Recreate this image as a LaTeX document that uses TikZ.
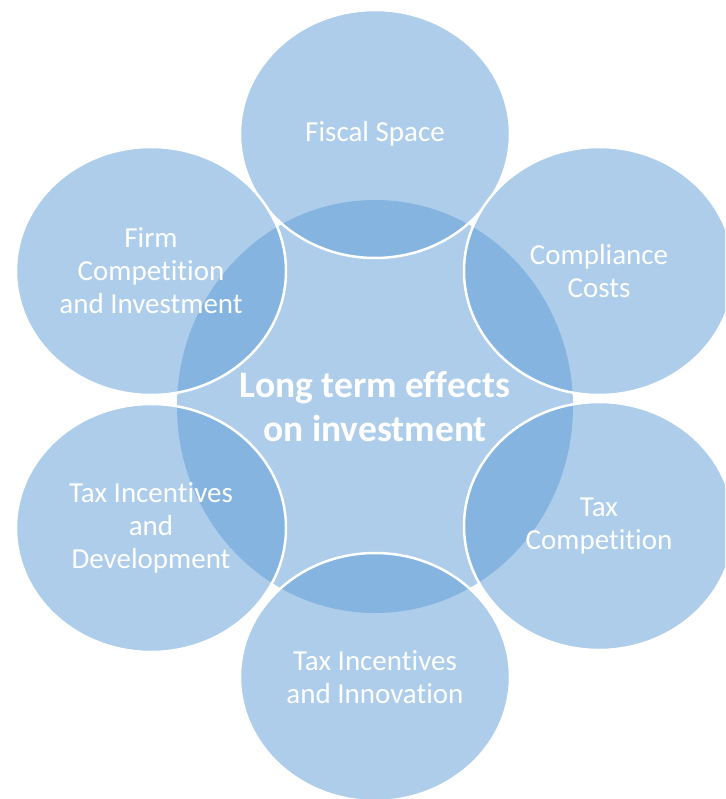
\documentclass[tikz,border=0pt]{standalone}
\usepackage{fontspec}
\setmainfont{Carlito}[RawFeature={-liga;-clig;-dlig;-calt}]
\usetikzlibrary{shapes.geometric}
\definecolor{acc}{HTML}{5B9BD5}
\newcommand{\nolig}{\kern0pt }
\begin{document}
\begin{tikzpicture}[x=1pt,y=-1pt,
  hub/.style={ellipse, fill=acc, fill opacity=0.5, draw=none,
    minimum width=396pt, minimum height=413pt, inner sep=0pt},
  petal/.style={ellipse, fill=acc, fill opacity=0.5, draw=white, draw opacity=1,
    line width=2.5pt, minimum width=270pt, minimum height=248pt, inner sep=0pt},
  ptxt/.style={text=white, align=center, font=\fontsize{29}{33}\selectfont},
  htxt/.style={text=white, align=center, font=\bfseries\fontsize{37.5}{44}\selectfont}]
\useasboundingbox (0,0) rectangle (725,799);
\clip (0,0) rectangle (725,799);
\node[hub] (hub) at (375,406.5) {};
\node[petal] (fs) at (375,134) {};
\node[petal] (cc) at (599,271) {};
\node[petal] (tc) at (599,526) {};
\node[petal] (ti) at (375,677) {};
\node[petal] (td) at (151,528) {};
\node[petal] (fc) at (151,271) {};
\node[htxt] (hubt) at (hub.center) {Long term ef\nolig f\nolig ects\\on investment};
\node[ptxt] (fst) at (fs.center) {Fiscal Space};
\node[ptxt] (cct) at (cc.center) {Compliance\\Costs};
\node[ptxt] (tct) at (tc.center) {Tax\\Compet\nolig ition};
\node[ptxt] (tit) at (ti.center) {Tax Incent\nolig ives\\and Innovat\nolig ion};
\node[ptxt] (tdt) at (td.center) {Tax Incent\nolig ives\\and\\Development};
\node[ptxt] (fct) at (fc.center) {Firm\\Compet\nolig it\nolig ion\\and Investment};
\end{tikzpicture}
\end{document}
